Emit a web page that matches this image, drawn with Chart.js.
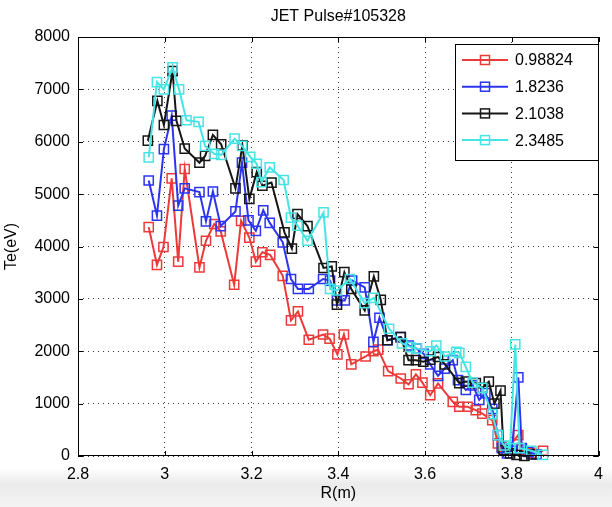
<!DOCTYPE html>
<html>
<head>
<meta charset="utf-8">
<script src="https://cdn.jsdelivr.net/npm/chart.js@4.4.0/dist/chart.umd.min.js"></script>
<style>
  html, body { margin: 0; padding: 0; }
  body {
    width: 612px; height: 507px; overflow: hidden;
    background: linear-gradient(to bottom, #fff 0, #fff 468px, #ebebeb 484px, #f3f3f3 507px);
  }
  canvas { display: block; }
</style>
</head>
<body>
<canvas id="graphCanvas" width="612" height="507"></canvas>
<script>
// chart text
const chartTitle = 'JET Pulse#105328';
const xTitle = 'R(m)';
const yTitle = 'Te(eV)';
const seriesNames = ['0.98824', '1.8236', '2.1038', '2.3485'];
const seriesColors = ['rgb(236,58,58)', 'rgb(44,52,240)', 'rgb(22,22,22)', 'rgb(70,228,228)'];

// tick labels
const xTicks = [2.8, 3, 3.2, 3.4, 3.6, 3.8, 4];
const yTicks = [0, 1000, 2000, 3000, 4000, 5000, 6000, 7000, 8000];

// series values (R in m, Te in eV)
const rRed = [2.963, 2.982, 2.997, 3.016, 3.031, 3.046, 3.080, 3.095, 3.114, 3.129, 3.160, 3.176, 3.195, 3.210, 3.225, 3.243, 3.272, 3.291, 3.307, 3.332, 3.365, 3.380, 3.398, 3.413, 3.430, 3.463, 3.481, 3.492, 3.515, 3.544, 3.562, 3.579, 3.594, 3.612, 3.630, 3.664, 3.679, 3.698, 3.717, 3.732, 3.755, 3.768, 3.777, 3.786, 3.815, 3.823, 3.845, 3.872];
const teRed = [4370, 3650, 3990, 5300, 3710, 5480, 3600, 4110, 4430, 4290, 3270, 4490, 4170, 3710, 3890, 3840, 3440, 2590, 2760, 2220, 2320, 2240, 1940, 2320, 1750, 1900, 2000, 2030, 1620, 1480, 1370, 1560, 1400, 1160, 1385, 1035, 940, 940, 875, 810, 685, 240, 180, 100, 400, 120, 60, 100];

const rBlue = [2.963, 2.982, 2.998, 3.016, 3.031, 3.046, 3.080, 3.095, 3.111, 3.129, 3.163, 3.178, 3.193, 3.210, 3.227, 3.242, 3.272, 3.291, 3.307, 3.332, 3.365, 3.381, 3.397, 3.415, 3.432, 3.461, 3.481, 3.495, 3.514, 3.544, 3.562, 3.581, 3.597, 3.612, 3.630, 3.645, 3.664, 3.676, 3.694, 3.710, 3.725, 3.739, 3.755, 3.768, 3.777, 3.789, 3.800, 3.815, 3.823, 3.838, 3.857];
const teBlue = [5260, 4590, 5860, 6500, 4780, 5110, 5040, 4480, 5050, 4390, 4670, 5600, 4500, 4300, 4690, 4450, 4080, 3380, 3190, 3190, 3380, 3350, 2970, 2970, 3350, 3220, 2180, 2640, 2210, 2270, 2110, 2050, 1950, 1750, 1530, 1670, 1830, 1450, 1260, 1350, 1070, 1200, 900, 400, 150, 50, 100, 1500, 150, 80, 30];

const rBlack = [2.961, 2.983, 2.998, 3.018, 3.027, 3.046, 3.080, 3.093, 3.111, 3.130, 3.163, 3.179, 3.195, 3.212, 3.225, 3.246, 3.276, 3.293, 3.306, 3.329, 3.366, 3.385, 3.397, 3.414, 3.430, 3.461, 3.482, 3.498, 3.513, 3.544, 3.562, 3.579, 3.596, 3.612, 3.630, 3.646, 3.679, 3.694, 3.717, 3.732, 3.747, 3.760, 3.774, 3.781, 3.796, 3.811, 3.829, 3.845];
const teBlack = [6020, 6780, 6320, 7350, 6400, 5870, 5600, 5730, 6130, 5950, 5110, 5930, 4910, 5420, 5160, 5220, 4270, 3960, 4620, 4390, 3590, 3620, 2890, 3510, 3190, 2780, 3430, 2980, 2210, 2270, 1830, 1830, 1800, 1840, 1890, 1750, 1390, 1420, 1390, 1300, 1420, 1000, 1250, 110, 50, 20, 0, 30];

const rCyan = [2.963, 2.982, 2.998, 3.018, 3.033, 3.050, 3.078, 3.093, 3.114, 3.130, 3.161, 3.178, 3.197, 3.212, 3.223, 3.242, 3.274, 3.291, 3.306, 3.329, 3.366, 3.381, 3.397, 3.427, 3.461, 3.482, 3.517, 3.547, 3.566, 3.581, 3.612, 3.626, 3.646, 3.672, 3.679, 3.694, 3.710, 3.732, 3.755, 3.768, 3.782, 3.796, 3.808, 3.818, 3.845, 3.872];
const teCyan = [5700, 7140, 7000, 7420, 7000, 6410, 6380, 5920, 5770, 5750, 6060, 5920, 5710, 5580, 5230, 5510, 5270, 4550, 4400, 4110, 4650, 3190, 3160, 3380, 2920, 3020, 2430, 2150, 2080, 2050, 2000, 2110, 1900, 1990, 1970, 1700, 1400, 1300, 800, 400, 200, 150, 2130, 150, 100, 20];

const seriesR = [rRed, rBlue, rBlack, rCyan];
const seriesTe = [teRed, teBlue, teBlack, teCyan];

const FONT = '"Liberation Sans", Arial, Helvetica, sans-serif';
Chart.defaults.font.family = FONT;
Chart.defaults.font.size = 16;
Chart.defaults.color = '#000';

// frame, inward ticks, title and boxed legend like the matlab figure
const matlabFrame = {
  id: 'matlabFrame',
  afterDraw(chart) {
    const { ctx, chartArea: a, scales } = chart;
    ctx.save();
    ctx.strokeStyle = '#000';
    ctx.lineWidth = 1;
    ctx.strokeRect(Math.round(a.left) + 0.5, Math.round(a.top) + 0.5, Math.round(a.width) - 1, Math.round(a.height) - 1);

    ctx.beginPath();
    xTicks.forEach(v => {
      const x = Math.round(scales.x.getPixelForValue(v)) + 0.5;
      ctx.moveTo(x, a.bottom); ctx.lineTo(x, a.bottom - 5);
      ctx.moveTo(x, a.top); ctx.lineTo(x, a.top + 5);
    });
    yTicks.forEach(v => {
      const y = Math.round(scales.y.getPixelForValue(v)) + 0.5;
      ctx.moveTo(a.left, y); ctx.lineTo(a.left + 5, y);
      ctx.moveTo(a.right, y); ctx.lineTo(a.right - 5, y);
    });
    ctx.stroke();

    // title
    ctx.fillStyle = '#000';
    ctx.font = '16px ' + FONT;
    ctx.textAlign = 'center';
    ctx.textBaseline = 'middle';
    ctx.fillText(chartTitle, (a.left + a.right) / 2, 17);

    // legend box
    const lx = 455, ly = 44, lw = 143, lh = 116;
    ctx.fillStyle = '#fff';
    ctx.fillRect(lx, ly, lw, lh);
    ctx.strokeStyle = '#000';
    ctx.strokeRect(lx + 0.5, ly + 0.5, lw, lh);
    seriesNames.forEach((name, i) => {
      const y = 60 + i * 26.7;
      ctx.strokeStyle = seriesColors[i];
      ctx.lineWidth = 2;
      ctx.beginPath();
      ctx.moveTo(462, y); ctx.lineTo(508, y);
      ctx.stroke();
      ctx.lineWidth = 1.5;
      ctx.strokeRect(480.5, y - 4.5, 9, 9);
      ctx.fillStyle = '#000';
      ctx.textAlign = 'left';
      ctx.fillText(name, 515, y + 1);
    });
    ctx.restore();
  }
};

const datasets = seriesNames.map((name, i) => ({
  label: name,
  data: seriesR[i].map((r, k) => ({ x: r, y: seriesTe[i][k] })),
  borderColor: seriesColors[i],
  borderWidth: 2,
  pointStyle: 'rect',
  pointRadius: 6.5,
  pointBorderWidth: 1.5,
  pointBackgroundColor: 'rgba(0,0,0,0)',
  pointBorderColor: seriesColors[i],
  tension: 0,
  clip: 10,
  order: seriesNames.length - i
}));

const ctx = document.getElementById('graphCanvas').getContext('2d');
const chart = new Chart(ctx, {
  type: 'line',
  data: { datasets: datasets },
  options: {
    responsive: false,
    animation: false,
    layout: { padding: { top: 37, right: 5, left: 0, bottom: 0 } },
    plugins: {
      legend: { display: false },
      tooltip: { enabled: false }
    },
    scales: {
      x: {
        type: 'linear',
        min: 2.8,
        max: 4,
        afterBuildTicks: s => { s.ticks = xTicks.map(v => ({ value: v })); },
        afterFit: s => { s.height = 51; },
        ticks: { padding: 9, callback: v => String(v), maxRotation: 0 },
        grid: { color: '#3a3a3a', lineWidth: 1, drawTicks: false },
        border: { display: false, dash: [1, 4] },
        title: { display: true, text: xTitle, padding: { top: 4, bottom: 4 } }
      },
      y: {
        type: 'linear',
        min: 0,
        max: 8000,
        afterBuildTicks: s => { s.ticks = yTicks.map(v => ({ value: v })); },
        afterFit: s => { s.width = 78; },
        ticks: { padding: 8, callback: v => String(v) },
        grid: { color: '#3a3a3a', lineWidth: 1, drawTicks: false },
        border: { display: false, dash: [1, 4] },
        title: { display: true, text: yTitle, padding: { top: 2, bottom: 2 } }
      }
    }
  },
  plugins: [matlabFrame]
});
</script>
</body>
</html>
